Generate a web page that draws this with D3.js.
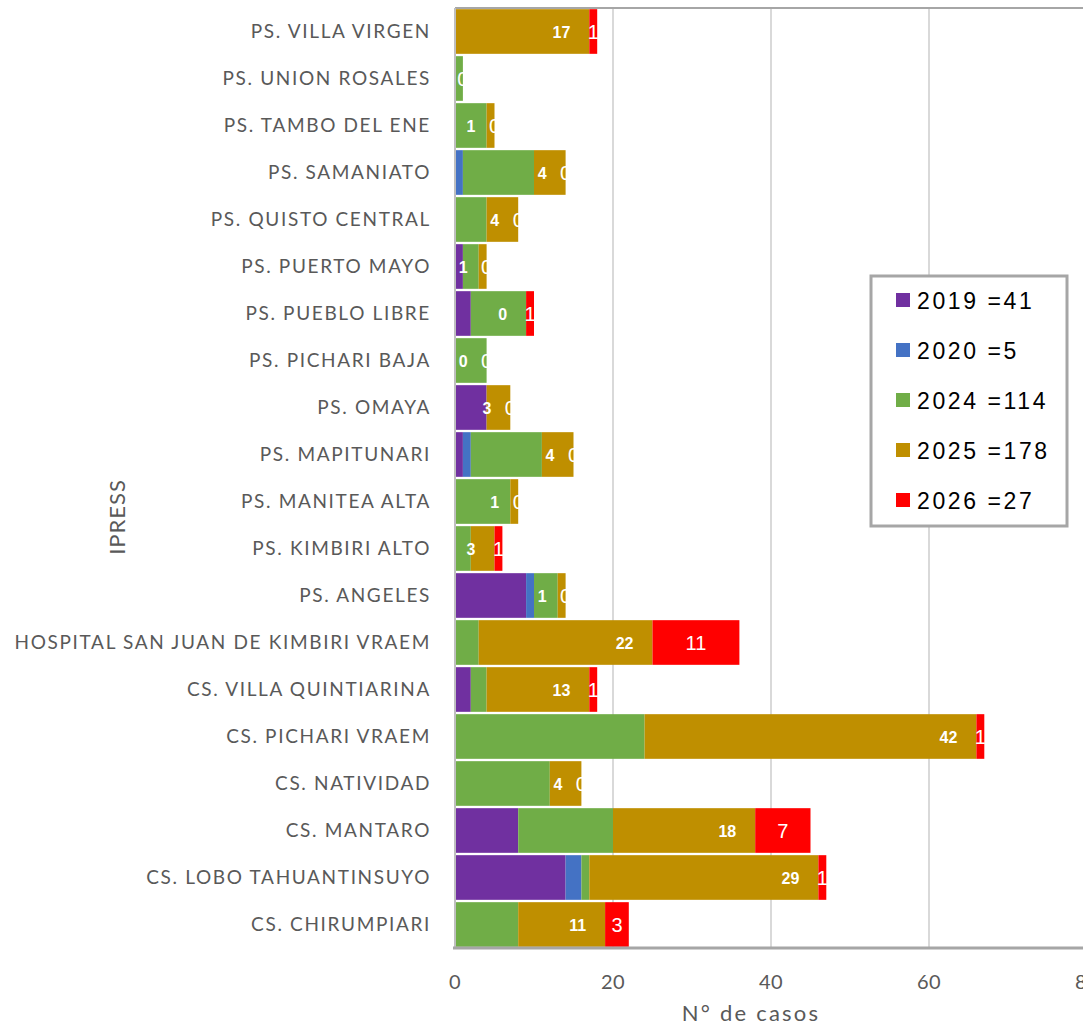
<!DOCTYPE html>
<html><head><meta charset="utf-8">
<script src="https://cdn.jsdelivr.net/npm/d3@7/dist/d3.min.js"></script>
<style>body{margin:0;background:#fff;overflow:hidden}svg{display:block}</style>
</head><body><svg id="c" width="1083" height="1025"></svg>
<script>
const categories = ["PS. VILLA VIRGEN","PS. UNION ROSALES","PS. TAMBO DEL ENE","PS. SAMANIATO","PS. QUISTO CENTRAL","PS. PUERTO MAYO","PS. PUEBLO LIBRE","PS. PICHARI BAJA","PS. OMAYA","PS. MAPITUNARI","PS. MANITEA ALTA","PS. KIMBIRI ALTO","PS. ANGELES","HOSPITAL SAN JUAN DE KIMBIRI VRAEM","CS. VILLA QUINTIARINA","CS. PICHARI VRAEM","CS. NATIVIDAD","CS. MANTARO","CS. LOBO TAHUANTINSUYO","CS. CHIRUMPIARI"];
const v2019 = [0,0,0,0,0,1,2,0,4,1,0,0,9,0,2,0,0,8,14,0];
const v2020 = [0,0,0,1,0,0,0,0,0,1,0,0,1,0,0,0,0,0,2,0];
const v2024 = [0,1,4,9,4,2,7,4,0,9,7,2,3,3,2,24,12,12,1,8];
const v2025 = [17,0,1,4,4,1,0,0,3,4,1,3,1,22,13,42,4,18,29,11];
const v2026 = [1,0,0,0,0,0,1,0,0,0,0,1,0,11,1,1,0,7,1,3];
const seriesNames = ["2019","2020","2024","2025","2026"];
const seriesColors = ["#7030A0","#4472C4","#70AD47","#BF8F00","#FF0000"];
const xTicks = [0,20,40,60,80];

const svg = d3.select("#c");
const L = 455, R = 1087, T = 8, B = 948;
const x = d3.scaleLinear().domain([0,80]).range([L,R]);
const y = d3.scaleBand().domain(categories).range([T,B]).paddingInner(0.05).paddingOuter(0.025);

const rows = categories.map((c,i)=>({cat:c,"2019":v2019[i],"2020":v2020[i],"2024":v2024[i],"2025":v2025[i],"2026":v2026[i]}));
const stacked = d3.stack().keys(seriesNames)(rows);

svg.append("defs").append("clipPath").attr("id","pc").append("rect")
  .attr("x",L).attr("y",T).attr("width",R-L).attr("height",B-T);

// gridlines
svg.append("g").selectAll("line").data(xTicks.filter(d=>d>0)).join("line")
  .attr("x1",d=>x(d)).attr("x2",d=>x(d)).attr("y1",T).attr("y2",B)
  .attr("stroke","#d9d9d9").attr("stroke-width",2);

// bars
const g = svg.append("g");
stacked.forEach((s,si)=>{
  g.append("g").attr("fill",seriesColors[si]).selectAll("rect").data(s).join("rect")
    .attr("x",d=>x(d[0])).attr("width",d=>x(d[1])-x(d[0]))
    .attr("y",d=>y(d.data.cat)).attr("height",y.bandwidth());
});

// plot borders
svg.append("line").attr("x1",L).attr("x2",R).attr("y1",T).attr("y2",T).attr("stroke","#a6a6a6").attr("stroke-width",2);
svg.append("line").attr("x1",L).attr("x2",L).attr("y1",T).attr("y2",B).attr("stroke","#bfbfbf").attr("stroke-width",2);
svg.append("line").attr("x1",L-2).attr("x2",R).attr("y1",B).attr("y2",B).attr("stroke","#a6a6a6").attr("stroke-width",3);

// labels
const lab = svg.append("g").attr("clip-path","url(#pc)");
const s25 = stacked[3], s26 = stacked[4];
lab.selectAll("text.b").data(s25).join("text").attr("class","b")
  .attr("x",d=>x(d[1])-19).attr("y",d=>y(d.data.cat)+y.bandwidth()/2+6)
  .attr("text-anchor","end").attr("fill","#fff")
  .style("font","bold 16px 'Liberation Sans', Arial, sans-serif")
  .text(d=>d.data["2025"]);
lab.selectAll("text.r").data(s26).join("text").attr("class","r")
  .attr("x",d=>(x(d[0])+x(d[1]))/2).attr("y",d=>y(d.data.cat)+y.bandwidth()/2+7)
  .attr("text-anchor","middle").attr("fill","#fff")
  .style("font","20px 'Liberation Sans', Arial, sans-serif")
  .text(d=>d.data["2026"]);

// category labels
svg.append("g").selectAll("text").data(categories).join("text")
  .attr("x",431).attr("y",d=>y(d)+y.bandwidth()/2+6)
  .attr("text-anchor","end").attr("fill","#595959")
  .style("font","19px Lato, sans-serif").style("letter-spacing","1.65px")
  .text(d=>d);

// x tick labels
svg.append("g").selectAll("text").data(xTicks).join("text")
  .attr("x",d=>x(d)).attr("y",989).attr("text-anchor","middle").attr("fill","#595959")
  .style("font","20px Lato, sans-serif").style("letter-spacing","0.5px").text(d=>d);

svg.append("text").attr("x",751).attr("y",1021).attr("text-anchor","middle").attr("fill","#595959")
  .style("font","22px Lato, sans-serif").style("letter-spacing","2.2px").text("N° de casos");
svg.append("text").attr("transform","translate(125,517) rotate(-90)").attr("text-anchor","middle").attr("fill","#595959")
  .style("font","22px Lato, sans-serif").style("letter-spacing","1px").text("IPRESS");

// legend
const totals = [v2019,v2020,v2024,v2025,v2026].map(a=>d3.sum(a));
const lg = svg.append("g");
lg.append("rect").attr("x",871).attr("y",276).attr("width",196).attr("height",250)
  .attr("fill","#fff").attr("stroke","#a6a6a6").attr("stroke-width",3);
const it = lg.selectAll("g").data(seriesNames).join("g")
  .attr("transform",(d,i)=>`translate(896,${300+i*50})`);
it.append("rect").attr("x",0).attr("y",-7).attr("width",14).attr("height",14).attr("fill",(d,i)=>seriesColors[i]);
it.append("text").attr("x",21).attr("y",8.5).attr("fill","#000")
  .style("font","23px 'Liberation Sans', Arial, sans-serif").style("letter-spacing","2.6px")
  .text((d,i)=>`${d} =${totals[i]}`);
</script></body></html>
